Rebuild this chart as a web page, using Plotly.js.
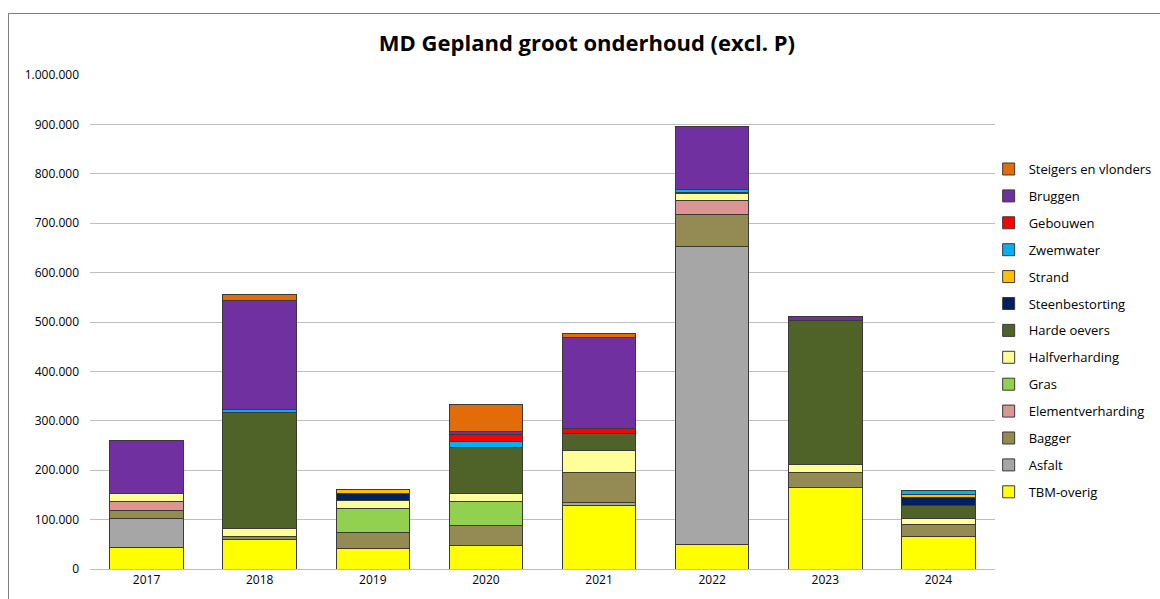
<!DOCTYPE html>
<html>
<head>
<meta charset="utf-8">
<script src="https://cdn.plot.ly/plotly-3.0.1.min.js"></script>
<style>
html,body{margin:0;padding:0;background:#fff;overflow:hidden;}
#chart{width:1160px;height:599px;}
#frame{position:absolute;left:8px;top:13px;width:1200px;height:700px;border:1px solid #808080;pointer-events:none;}
</style>
</head>
<body>
<div id="chart"></div>
<div id="frame"></div>
<script>
const years = ['2017','2018','2019','2020','2021','2022','2023','2024'];
const tbmOverig        = [43000, 60000, 42000, 48000, 129500, 48600, 164600, 66800];
const asfalt           = [59000, null, null, null, 5000, 603800, null, null];
const bagger           = [17000, 6000, 32000, 40500, 60000, 66000, 31000, 22300];
const elementverharding= [17000, null, null, null, null, 27000, null, null];
const gras             = [null, null, 48600, 48600, null, null, null, null];
const halfverharding   = [16000, 15000, 15500, 15400, 46000, 15000, 15400, 13600];
const hardeOevers      = [null, 236000, null, 93000, 33700, null, 291500, 25500];
const steenbestorting  = [null, null, 15000, null, null, 2000, null, 15600];
const strand           = [null, null, 8000, null, null, null, null, 7500];
const zwemwater        = [null, 6000, null, 12000, null, 5000, null, 7400];
const gebouwen         = [null, null, null, 15000, 10000, null, null, null];
const bruggen          = [109000, 221000, null, 5000, 184000, 128000, 9500, null];
const steigers         = [null, 12000, null, 56000, 8700, null, null, null];

const series = [
  ['TBM-overig', tbmOverig, '#FFFF00'],
  ['Asfalt', asfalt, '#A6A6A6'],
  ['Bagger', bagger, '#948A54'],
  ['Elementverharding', elementverharding, '#D99694'],
  ['Gras', gras, '#92D050'],
  ['Halfverharding', halfverharding, '#FFFF99'],
  ['Harde oevers', hardeOevers, '#4F6228'],
  ['Steenbestorting', steenbestorting, '#002060'],
  ['Strand', strand, '#FFC000'],
  ['Zwemwater', zwemwater, '#00B0F0'],
  ['Gebouwen', gebouwen, '#FF0000'],
  ['Bruggen', bruggen, '#7030A0'],
  ['Steigers en vlonders', steigers, '#E36C09']
];

const traces = series.map((s, i) => ({
  type: 'bar', name: s[0], x: years, y: s[1],
  legendgroup: 'g' + i,
  legendrank: series.length - i,
  marker: {color: s[2], line: {color: '#3a3a3a', width: 1}},
  hoverinfo: 'x+y+name'
}));

const layout = {
  width: 1160, height: 599,
  barmode: 'stack', bargap: 0.35,
  separators: ',.',
  paper_bgcolor: '#fff', plot_bgcolor: '#fff',
  margin: {l: 90, r: 165, t: 75, b: 30, autoexpand: false},
  font: {family: 'Open Sans, Liberation Sans, sans-serif', size: 12, color: '#000'},
  title: {text: '<b>MD Gepland groot onderhoud (excl. P)</b>', x: 0.506, xanchor: 'center', y: 0.928, yanchor: 'middle',
          font: {family: 'Open Sans, sans-serif', size: 22, color: '#000'}},
  xaxis: {type: 'category', showgrid: false, showline: true, linecolor: '#bfbfbf', linewidth: 1,
          ticks: '', tickfont: {size: 12}},
  yaxis: {range: [0, 1000000], dtick: 100000, tickformat: ',d', showgrid: true, gridcolor: '#bfbfbf',
          gridwidth: 1, zeroline: false, showline: false, ticks: '', tickfont: {size: 12},
          ticklabelstandoff: 10},
  legend: {x: 0.993, xanchor: 'left', y: 0.84, yanchor: 'top', traceorder: 'grouped',
           tracegroupgap: 7, font: {size: 13}, bgcolor: 'rgba(0,0,0,0)', itemwidth: 30}
};

Plotly.newPlot('chart', traces, layout, {displayModeBar: false, staticPlot: true});
</script>
</body>
</html>
